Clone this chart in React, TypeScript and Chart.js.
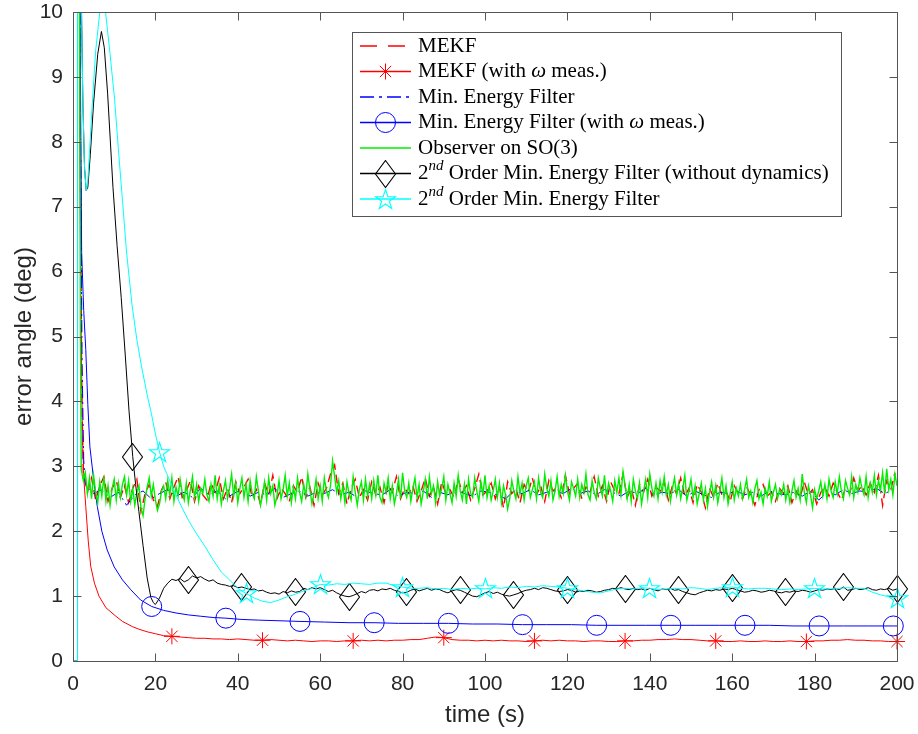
import React, { useEffect, useRef } from 'react';
import { Chart, registerables } from 'chart.js';

Chart.register(...registerables);

// ---------------- axis ticks ----------------
const X_TICKS = [0, 20, 40, 60, 80, 100, 120, 140, 160, 180, 200];
const Y_TICKS = [0, 1, 2, 3, 4, 5, 6, 7, 8, 9, 10];

// ---------------- legend labels ----------------
type Seg = { t: string; it?: boolean; sup?: boolean };
const LEGEND_TEXT: Seg[][] = [
  [{ t: 'MEKF' }],
  [{ t: 'MEKF (with ' }, { t: 'ω', it: true }, { t: ' meas.)' }],
  [{ t: 'Min. Energy Filter' }],
  [{ t: 'Min. Energy Filter (with ' }, { t: 'ω', it: true }, { t: ' meas.)' }],
  [{ t: 'Observer on SO(3)' }],
  [{ t: '2' }, { t: 'nd', it: true, sup: true }, { t: ' Order Min. Energy Filter (without dynamics)' }],
  [{ t: '2' }, { t: 'nd', it: true, sup: true }, { t: ' Order Min. Energy Filter' }],
];

// ---------------- MEKF (no ω) : noisy ----------------
const MEKF_HEAD = [[1.3, 30], [1.7, 9], [2.1, 4.2]];
const MEKF_T0 = 2.5;
const MEKF_DT = 1;
const MEKF_VALUES = [
  2.90, 2.60, 2.82, 2.48, 2.70, 2.84, 2.46, 2.66, 2.78, 2.52,
  2.70, 2.44, 2.66, 2.80, 2.30, 2.58, 2.72, 2.48, 2.38, 2.64,
  2.76, 2.50, 2.68, 2.84, 2.52, 2.62, 2.78, 2.46, 2.70, 2.56,
  2.48, 2.74, 2.60, 2.82, 2.50, 2.66, 2.44, 2.76, 2.58, 2.68,
  2.80, 2.52, 2.64, 2.42, 2.74, 2.56, 2.86, 2.50, 2.66, 2.58,
  2.46, 2.70, 2.60, 2.84, 2.52, 2.68, 2.40, 2.74, 2.56, 2.66,
  2.88, 3.02, 2.58, 2.74, 2.42, 2.66, 2.80, 2.52, 2.64, 2.48,
  2.76, 2.56, 2.68, 2.44, 2.72, 2.60, 2.84, 2.50, 2.66, 2.58,
  2.70, 2.46, 2.62, 2.82, 2.54, 2.68, 2.42, 2.76, 2.58, 2.64,
  2.52, 2.80, 2.60, 2.70, 2.48, 2.66, 2.88, 2.56, 2.62, 2.74,
  2.50, 2.68, 2.36, 2.76, 2.58, 2.66, 2.44, 2.72, 2.60, 2.82,
  2.56, 2.70, 2.46, 2.78, 2.62, 2.68, 2.52, 2.86, 2.58, 2.66,
  2.74, 2.50, 2.68, 2.60, 2.84, 2.54, 2.70, 2.46, 2.76, 2.62,
  2.58, 2.88, 2.52, 2.66, 2.40, 2.72, 2.60, 2.80, 2.54, 2.68,
  2.62, 2.76, 2.48, 2.70, 2.58, 2.82, 2.54, 2.66, 2.44, 2.72,
  2.60, 2.36, 2.66, 2.52, 2.74, 2.56, 2.62, 2.46, 2.70, 2.58,
  2.50, 2.68, 2.56, 2.40, 2.64, 2.72, 2.54, 2.60, 2.46, 2.66,
  2.58, 2.70, 2.44, 2.62, 2.52, 2.76, 2.56, 2.64, 2.42, 2.60,
  2.68, 2.54, 2.74, 2.60, 2.48, 2.66, 2.58, 2.82, 2.62, 2.70,
  2.56, 2.74, 2.60, 2.86, 2.40, 2.78, 2.64, 2.90,
];

// ---------------- MEKF with ω meas. ----------------
const MEKFW_HEAD = [
  [1.2, 20], [1.6, 9], [1.9, 5.5], [2.3, 3.41], [2.7, 2.75], [3.1, 2.38], [3.7, 1.85],
  [4.3, 1.46], [5.2, 1.2], [6.3, 1.0], [8, 0.82], [10.4, 0.69], [12, 0.61], [14.4, 0.53],
  [16, 0.49], [18, 0.45], [20, 0.42],
];
const MEKFW_T0 = 22;
const MEKFW_DT = 2;
const MEKFW_VALUES = [
  0.39, 0.38, 0.37, 0.36, 0.35, 0.35, 0.34, 0.34, 0.33, 0.34,
  0.33, 0.32, 0.32, 0.33, 0.32, 0.31, 0.32, 0.31, 0.30, 0.31,
  0.31, 0.30, 0.31, 0.31, 0.32, 0.31, 0.32, 0.31, 0.32, 0.32,
  0.33, 0.33, 0.35, 0.37, 0.36, 0.33, 0.32, 0.32, 0.31, 0.32,
  0.31, 0.32, 0.31, 0.31, 0.30, 0.31, 0.32, 0.31, 0.32, 0.31,
  0.31, 0.30, 0.31, 0.31, 0.30, 0.30, 0.31, 0.31, 0.32, 0.32,
  0.33, 0.33, 0.34, 0.33, 0.33, 0.32, 0.31, 0.31, 0.30, 0.30,
  0.31, 0.30, 0.30, 0.31, 0.30, 0.30, 0.31, 0.30, 0.30, 0.31,
  0.31, 0.32, 0.32, 0.33, 0.32, 0.32, 0.31, 0.31, 0.30, 0.30,
];
const MEKFW_MARKERS = [23.5, 45.5, 67.5, 89.5, 111.5, 133.5, 155.5, 177.5, 199.5];

// ---------------- Min. Energy Filter (no ω) : noisy ----------------
const MEF_HEAD = [[1.3, 30], [1.75, 9], [2.2, 4.6], [2.6, 3.1]];
const MEF_T0 = 3;
const MEF_DT = 2;
const MEF_VALUES = [
  2.72, 2.58, 2.64, 2.52, 2.60, 2.40, 2.56, 2.62, 2.50, 2.58,
  2.64, 2.54, 2.60, 2.52, 2.66, 2.56, 2.62, 2.50, 2.58, 2.64,
  2.54, 2.60, 2.56, 2.66, 2.52, 2.58, 2.62, 2.54, 2.60, 2.58,
  2.64, 2.56, 2.60, 2.52, 2.62, 2.58, 2.56, 2.64, 2.54, 2.60,
  2.58, 2.62, 2.52, 2.60, 2.56, 2.64, 2.58, 2.54, 2.62, 2.60,
  2.56, 2.50, 2.62, 2.58, 2.64, 2.56, 2.60, 2.62, 2.58, 2.66,
  2.58, 2.62, 2.56, 2.64, 2.60, 2.54, 2.62, 2.58, 2.66, 2.56,
  2.60, 2.58, 2.64, 2.54, 2.62, 2.56, 2.52, 2.60, 2.58, 2.62,
  2.56, 2.60, 2.54, 2.62, 2.58, 2.56, 2.60, 2.54, 2.62, 2.48,
  2.60, 2.56, 2.64, 2.58, 2.62, 2.60, 2.66, 2.58, 2.64,
];

// ---------------- Min. Energy Filter with ω meas. ----------------
const MEFW_POINTS = [
  [1.3, 20], [1.7, 10], [2.1, 6.3], [2.6, 5.4], [3.1, 4.8], [3.6, 3.95], [4.1, 3.3],
  [5, 2.8], [5.9, 2.38], [7, 2.0], [8.3, 1.71], [10, 1.45], [12, 1.25], [14, 1.1],
  [16.4, 0.94], [19.1, 0.84], [22, 0.78], [25, 0.74], [28, 0.71], [31, 0.69], [34, 0.67],
  [37.1, 0.66], [41, 0.64], [45, 0.63], [50, 0.62], [55.1, 0.61], [61, 0.6], [67, 0.59],
  [73.1, 0.59], [79, 0.58], [85, 0.58], [91.1, 0.58], [97, 0.57], [103, 0.57], [109.1, 0.56],
  [115, 0.56], [121, 0.56], [127.1, 0.55], [133, 0.55], [139, 0.55], [145.1, 0.55], [151, 0.55],
  [157, 0.55], [163.1, 0.55], [169, 0.55], [175, 0.54], [181.1, 0.54], [187, 0.54], [193, 0.54],
  [199.1, 0.54], [200, 0.54],
];
const MEFW_MARKERS = [19.1, 37.1, 55.1, 73.1, 91.1, 109.1, 127.1, 145.1, 163.1, 181.1, 199.1];

// ---------------- Observer on SO(3) : noisy ----------------
const OBS_HEAD = [[1.2, 30], [1.6, 10], [1.8, 5]];
const OBS_T0 = 2;
const OBS_DT = 0.5;
const OBS_VALUES = [
  2.95, 2.78, 2.90, 2.58, 2.82, 2.50, 2.86, 2.60, 2.44, 2.76, 2.54, 2.84, 2.46, 2.70, 2.40, 2.66, 2.80, 2.48, 2.74, 2.52,
  2.72, 2.84, 2.56, 2.78, 2.46, 2.66, 2.40, 2.60, 2.70, 2.36, 2.24, 2.50, 2.68, 2.82, 2.54, 2.72, 2.48, 2.32, 2.42, 2.62,
  2.70, 2.50, 2.78, 2.56, 2.82, 2.46, 2.68, 2.54, 2.80, 2.60, 2.48, 2.74, 2.44, 2.64, 2.84, 2.52, 2.72, 2.46, 2.66, 2.58,
  2.80, 2.56, 2.46, 2.72, 2.54, 2.86, 2.50, 2.70, 2.42, 2.62, 2.78, 2.50, 2.66, 2.88, 2.54, 2.74, 2.44, 2.66, 2.82, 2.52,
  2.72, 2.46, 2.78, 2.58, 2.50, 2.84, 2.62, 2.40, 2.56, 2.76, 2.48, 2.82, 2.58, 2.70, 2.40, 2.54, 2.78, 2.50, 2.64, 2.86,
  2.54, 2.74, 2.44, 2.68, 2.50, 2.82, 2.60, 2.46, 2.72, 2.54, 2.88, 2.64, 2.42, 2.58, 2.80, 2.50, 2.70, 2.46, 2.82, 2.62,
  2.52, 2.70, 3.08, 2.84, 2.60, 2.78, 2.50, 2.70, 2.44, 2.76, 2.58, 2.48, 2.84, 2.60, 2.40, 2.64, 2.76, 2.48, 2.80, 2.54,
  2.72, 2.50, 2.78, 2.56, 2.86, 2.52, 2.44, 2.74, 2.60, 2.82, 2.50, 2.70, 2.42, 2.58, 2.80, 2.50, 2.90, 2.62, 2.52, 2.74,
  2.46, 2.66, 2.82, 2.52, 2.72, 2.42, 2.60, 2.80, 2.50, 2.84, 2.58, 2.70, 2.44, 2.76, 2.54, 2.66, 2.84, 2.48, 2.72, 2.58,
  2.44, 2.74, 2.54, 2.86, 2.62, 2.48, 2.72, 2.42, 2.80, 2.58, 2.52, 2.82, 2.62, 2.46, 2.76, 2.56, 2.86, 2.52, 2.70, 2.48,
  2.62, 2.80, 2.52, 2.74, 2.44, 2.70, 2.56, 2.34, 2.50, 2.78, 2.62, 2.50, 2.84, 2.58, 2.74, 2.48, 2.70, 2.82, 2.52, 2.64,
  2.76, 2.50, 2.82, 2.60, 2.52, 2.88, 2.66, 2.54, 2.78, 2.48, 2.62, 2.84, 2.54, 2.72, 2.58, 2.86, 2.62, 2.48, 2.76, 2.66,
  2.54, 2.80, 2.52, 2.72, 2.60, 2.88, 2.56, 2.48, 2.78, 2.60, 2.50, 2.82, 2.66, 2.54, 2.86, 2.52, 2.74, 2.62, 2.46, 2.78,
  2.60, 2.82, 2.56, 2.92, 2.70, 2.50, 2.72, 2.46, 2.80, 2.62, 2.50, 2.74, 2.42, 2.62, 2.80, 2.52, 2.88, 2.66, 2.54, 2.74,
  2.50, 2.78, 2.60, 2.84, 2.56, 2.72, 2.46, 2.66, 2.82, 2.56, 2.74, 2.50, 2.66, 2.86, 2.48, 2.62, 2.80, 2.52, 2.70, 2.42,
  2.58, 2.74, 2.48, 2.66, 2.38, 2.60, 2.76, 2.52, 2.70, 2.44, 2.62, 2.82, 2.52, 2.70, 2.42, 2.58, 2.76, 2.48, 2.66, 2.54,
  2.72, 2.50, 2.64, 2.80, 2.52, 2.62, 2.44, 2.66, 2.78, 2.50, 2.60, 2.42, 2.66, 2.54, 2.76, 2.46, 2.60, 2.72, 2.50, 2.64,
  2.56, 2.72, 2.48, 2.66, 2.44, 2.62, 2.78, 2.52, 2.66, 2.48, 2.88, 2.60, 2.44, 2.70, 2.56, 2.36, 2.64, 2.50, 2.62, 2.76,
  2.54, 2.72, 2.50, 2.80, 2.62, 2.52, 2.76, 2.58, 2.84, 2.62, 2.50, 2.78, 2.66, 2.56, 2.84, 2.52, 2.72, 2.60, 2.82, 2.66,
  2.56, 2.84, 2.52, 2.74, 2.60, 2.86, 2.56, 2.78, 2.64, 2.90, 2.58, 2.96, 2.64, 2.80, 2.56, 2.88, 2.70,
];

// ---------------- 2nd order MEF (without dynamics) ----------------
const SO_ND_HEAD = [
  [0, 0], [1.0, 0], [1.1, 30], [1.5, 15], [2.0, 10.3], [2.4, 8.6], [2.8, 7.6], [3.2, 7.25],
  [3.6, 7.3], [4.2, 7.8], [5, 8.6], [6, 9.35], [6.9, 9.7], [7.6, 9.45], [8.4, 8.75], [9.7, 7.3],
  [10.7, 6.4], [11.7, 5.6], [12.7, 4.7], [13.6, 3.85], [14.5, 3.15], [15.2, 2.72], [16, 2.3],
  [17, 1.78], [18, 1.28], [18.9, 0.98], [19.5, 0.9],
];
const SO_ND_T0 = 20;
const SO_ND_DT = 1;
const SO_ND_VALUES = [
  0.87, 0.97, 1.12, 1.20, 1.26, 1.24, 1.27, 1.22, 1.25, 1.31,
  1.28, 1.30, 1.26, 1.23, 1.25, 1.20, 1.18, 1.17, 1.15, 1.16,
  1.13, 1.14, 1.12, 1.10, 1.11, 1.08, 1.09, 1.06, 1.04, 1.05,
  1.03, 1.07, 1.05, 1.08, 1.06, 1.07, 1.12, 1.10, 1.13, 1.11,
  1.13, 1.10, 1.07, 1.09, 1.05, 1.02, 1.00, 0.99, 1.01, 1.04,
  1.07, 1.05, 1.09, 1.10, 1.08, 1.11, 1.10, 1.12, 1.09, 1.07,
  1.05, 1.06, 1.09, 1.11, 1.08, 1.10, 1.12, 1.09, 1.11, 1.10,
  1.07, 1.05, 1.08, 1.10, 1.09, 1.06, 1.03, 1.00, 0.99, 1.02,
  1.05, 1.07, 1.04, 1.06, 1.03, 1.01, 1.00, 1.02, 1.04, 1.07,
  1.09, 1.10, 1.12, 1.10, 1.13, 1.12, 1.10, 1.08, 1.07, 1.08,
  1.10, 1.09, 1.06, 1.08, 1.07, 1.09, 1.08, 1.06, 1.07, 1.09,
  1.10, 1.12, 1.11, 1.13, 1.11, 1.10, 1.12, 1.10, 1.11, 1.09,
  1.12, 1.10, 1.08, 1.11, 1.10, 1.12, 1.09, 1.10, 1.07, 1.05,
  1.03, 1.02, 1.05, 1.07, 1.09, 1.08, 1.10, 1.09, 1.11, 1.10,
  1.12, 1.10, 1.08, 1.06, 1.07, 1.09, 1.08, 1.06, 1.07, 1.09,
  1.08, 1.06, 1.05, 1.07, 1.06, 1.08, 1.07, 1.09, 1.08, 1.06,
  1.08, 1.10, 1.09, 1.11, 1.10, 1.12, 1.10, 1.14, 1.09, 1.10,
  1.12, 1.10, 1.11, 1.13, 1.10, 1.09, 1.11, 1.10, 1.12, 1.09,
  1.11,
];
const SO_ND_MARKERS = [14.5, 27.6, 40.9, 54.2, 67.5, 80.7, 94, 107.2, 120.5, 133.8, 147, 160.3, 173.5, 186.8, 200];

// ---------------- 2nd order MEF ----------------
const SO_HEAD = [
  [0, 0], [1.0, 0], [1.1, 30], [1.5, 15], [2.0, 10.3], [2.4, 8.6], [2.8, 7.6], [3.2, 7.25],
  [3.6, 7.4], [4.5, 8.4], [5.5, 9.4], [6.5, 10.0], [7.2, 10.25], [7.9, 10.0], [9, 9.35],
  [10.1, 8.65], [11, 7.9], [12, 7.1], [13, 6.3], [14.3, 5.5], [15.5, 4.95], [16.6, 4.55],
  [18, 4.1], [19, 3.82], [20, 3.5], [21, 3.22], [22, 3.0],
];
const SO_T0 = 24;
const SO_DT = 2;
const SO_VALUES = [
  2.70, 2.42, 2.17, 1.96, 1.77, 1.56, 1.37, 1.25, 1.12, 1.04,
  0.97, 0.92, 0.90, 0.94, 0.99, 1.03, 1.08, 1.12, 1.18, 1.17,
  1.19, 1.18, 1.20, 1.19, 1.18, 1.20, 1.20, 1.16, 1.14, 1.12,
  1.12, 1.13, 1.11, 1.12, 1.10, 1.12, 1.11, 1.12, 1.11, 1.13,
  1.12, 1.14, 1.13, 1.15, 1.14, 1.16, 1.15, 1.14, 1.12, 1.10,
  1.08, 1.06, 1.05, 1.08, 1.11, 1.12, 1.11, 1.13, 1.12, 1.10,
  1.11, 1.12, 1.11, 1.13, 1.12, 1.10, 1.12, 1.13, 1.14, 1.12,
  1.11, 1.12, 1.12, 1.11, 1.10, 1.11, 1.10, 1.11, 1.12, 1.11,
  1.11, 1.12, 1.13, 1.12, 1.12, 1.06, 1.02, 0.99, 0.97,
];
const SO_MARKERS = [21, 41.2, 60.6, 80.5, 100.4, 120.1, 140, 159.7, 179.6, 199.5];

// ---------------- styles ----------------
const AXIS_COLOR = '#555555';
const TEXT_COLOR = '#262626';
const TICK_LEN = 8;
const LEGEND_FONT = 21;
const LEGEND_SUP_FONT = 15;

type P = { x: number; y: number };

function fromPairs(pairs: number[][]): P[] {
  return pairs.map(([x, y]) => ({ x, y }));
}
function withUniform(head: number[][], t0: number, dt: number, vals: number[]): P[] {
  return fromPairs(head).concat(vals.map((v, i) => ({ x: Math.round((t0 + i * dt) * 1000) / 1000, y: v })));
}
function pickMarkers(data: P[], times: number[]): P[] {
  return times.map((t) => {
    let best = data[0];
    for (const p of data) if (Math.abs(p.x - t) < Math.abs(best.x - t)) best = p;
    return best;
  });
}

function makeDiamond(color: string): HTMLCanvasElement {
  const c = document.createElement('canvas');
  c.width = 21;
  c.height = 28;
  const g = c.getContext('2d')!;
  g.beginPath();
  g.moveTo(10.5, 0.5);
  g.lineTo(20.5, 14);
  g.lineTo(10.5, 27.5);
  g.lineTo(0.5, 14);
  g.closePath();
  g.strokeStyle = color;
  g.lineWidth = 1.1;
  g.stroke();
  return c;
}

function makePentagram(color: string): HTMLCanvasElement {
  const s = 25;
  const c = document.createElement('canvas');
  c.width = s;
  c.height = s;
  const g = c.getContext('2d')!;
  const R = 10.5;
  const r = R * 0.382;
  const cx = s / 2;
  const cy = s / 2 + 0.5;
  g.beginPath();
  for (let i = 0; i < 10; i++) {
    const ang = -Math.PI / 2 + (i * Math.PI) / 5;
    const rad = i % 2 === 0 ? R : r;
    const x = cx + rad * Math.cos(ang);
    const y = cy + rad * Math.sin(ang);
    if (i === 0) g.moveTo(x, y);
    else g.lineTo(x, y);
  }
  g.closePath();
  g.strokeStyle = color;
  g.lineWidth = 1.1;
  g.stroke();
  return c;
}

export default function App() {
  const ref = useRef<HTMLCanvasElement>(null);

  useEffect(() => {
    const canvas = ref.current;
    if (!canvas) return;

    const diamondImg = makeDiamond('#000000');
    const starImg = makePentagram('#00ffff');

    const mekf = withUniform(MEKF_HEAD, MEKF_T0, MEKF_DT, MEKF_VALUES);
    const mekfw = withUniform(MEKFW_HEAD, MEKFW_T0, MEKFW_DT, MEKFW_VALUES);
    const mef = withUniform(MEF_HEAD, MEF_T0, MEF_DT, MEF_VALUES);
    const mefw = fromPairs(MEFW_POINTS);
    const obs = withUniform(OBS_HEAD, OBS_T0, OBS_DT, OBS_VALUES);
    const sond = withUniform(SO_ND_HEAD, SO_ND_T0, SO_ND_DT, SO_ND_VALUES);
    const so = withUniform(SO_HEAD, SO_T0, SO_DT, SO_VALUES);

    const SERIES = [
      { data: mekf, color: '#ff0000', width: 1.4, dash: [9, 5], legendDash: [17, 11], marker: null as any, markers: [] as number[] },
      { data: mekfw, color: '#ff0000', width: 1, dash: [], legendDash: [], marker: 'asterisk', markers: MEKFW_MARKERS },
      { data: mef, color: '#0000ff', width: 1, dash: [12, 4, 2, 4], legendDash: [14, 5, 3, 5], marker: null, markers: [] },
      { data: mefw, color: '#0000ff', width: 1, dash: [], legendDash: [], marker: 'circle', markers: MEFW_MARKERS },
      { data: obs, color: '#00ee00', width: 1.4, dash: [], legendDash: [], marker: null, markers: [] },
      { data: sond, color: '#000000', width: 1, dash: [], legendDash: [], marker: 'diamond', markers: SO_ND_MARKERS },
      { data: so, color: '#00ffff', width: 1, dash: [], legendDash: [], marker: 'star', markers: SO_MARKERS },
    ];

    const datasets: any[] = [];
    SERIES.forEach((s, k) => {
      datasets.push({
        type: 'line',
        data: s.data,
        borderColor: s.color,
        backgroundColor: s.color,
        borderWidth: s.width,
        borderDash: s.dash,
        pointRadius: 0,
        tension: 0,
        fill: false,
        order: 100 - 2 * k,
      });
      if (s.marker) {
        const common: any = {
          type: 'line',
          data: pickMarkers(s.data, s.markers),
          showLine: false,
          clip: false,
          order: 100 - 2 * k - 1,
          pointBorderColor: s.color,
          pointBackgroundColor: 'rgba(0,0,0,0)',
          pointBorderWidth: 1,
        };
        if (s.marker === 'asterisk') Object.assign(common, { pointStyle: 'star', pointRadius: 8 });
        if (s.marker === 'circle') Object.assign(common, { pointStyle: 'circle', pointRadius: 10 });
        if (s.marker === 'diamond') Object.assign(common, { pointStyle: diamondImg, pointRadius: 10 });
        if (s.marker === 'star') Object.assign(common, { pointStyle: starImg, pointRadius: 10 });
        datasets.push(common);
      }
    });

    const drawMarker = (ctx: CanvasRenderingContext2D, m: string | null, x: number, y: number, color: string) => {
      if (!m) return;
      ctx.save();
      ctx.strokeStyle = color;
      ctx.lineWidth = 1;
      ctx.setLineDash([]);
      if (m === 'asterisk') {
        const r = 8;
        ctx.beginPath();
        ctx.moveTo(x - r, y);
        ctx.lineTo(x + r, y);
        ctx.moveTo(x, y - r);
        ctx.lineTo(x, y + r);
        const d = r * Math.SQRT1_2;
        ctx.moveTo(x - d, y - d);
        ctx.lineTo(x + d, y + d);
        ctx.moveTo(x - d, y + d);
        ctx.lineTo(x + d, y - d);
        ctx.stroke();
      } else if (m === 'circle') {
        ctx.beginPath();
        ctx.arc(x, y, 10, 0, Math.PI * 2);
        ctx.stroke();
      } else if (m === 'diamond') {
        ctx.drawImage(diamondImg, Math.round(x - diamondImg.width / 2), Math.round(y - diamondImg.height / 2));
      } else if (m === 'star') {
        ctx.drawImage(starImg, Math.round(x - starImg.width / 2), Math.round(y - starImg.height / 2));
      }
      ctx.restore();
    };

    const crispPlugin = {
      id: 'crispImages',
      beforeDatasetsDraw(chart: any) {
        chart.ctx.imageSmoothingEnabled = false;
      },
      afterDatasetsDraw(chart: any) {
        chart.ctx.imageSmoothingEnabled = true;
      },
    };

    const axesPlugin = {
      id: 'matlabAxes',
      afterDatasetsDraw(chart: any) {
        const { ctx, chartArea: a, scales } = chart;
        const xs = scales.x;
        const ys = scales.y;
        ctx.save();
        ctx.strokeStyle = AXIS_COLOR;
        ctx.lineWidth = 1;
        ctx.setLineDash([]);
        ctx.beginPath();
        const L = Math.round(a.left) + 0.5;
        const R = Math.round(a.right) + 0.5;
        const T = Math.round(a.top) + 0.5;
        const B = Math.round(a.bottom) + 0.5;
        ctx.moveTo(L, T);
        ctx.lineTo(R, T);
        ctx.lineTo(R, B);
        ctx.lineTo(L, B);
        ctx.closePath();
        for (const t of X_TICKS) {
          const px = Math.round(xs.getPixelForValue(t)) + 0.5;
          ctx.moveTo(px, B);
          ctx.lineTo(px, B - TICK_LEN);
          ctx.moveTo(px, T);
          ctx.lineTo(px, T + TICK_LEN);
        }
        for (const v of Y_TICKS) {
          const py = Math.round(ys.getPixelForValue(v)) + 0.5;
          ctx.moveTo(L, py);
          ctx.lineTo(L + TICK_LEN, py);
          ctx.moveTo(R, py);
          ctx.lineTo(R - TICK_LEN, py);
        }
        ctx.stroke();
        ctx.restore();
      },
    };

    const legendPlugin = {
      id: 'matlabLegend',
      afterDraw(chart: any) {
        const ctx: CanvasRenderingContext2D = chart.ctx;
        ctx.save();
        const L = 352;
        const T = 32;
        const R = 841;
        const B = 216;
        ctx.fillStyle = '#ffffff';
        ctx.fillRect(L, T, R - L, B - T);
        ctx.strokeStyle = AXIS_COLOR;
        ctx.lineWidth = 1;
        ctx.strokeRect(L + 0.5, T + 0.5, R - L, B - T);
        SERIES.forEach((s, i) => {
          const y = 46 + i * 25.5;
          ctx.strokeStyle = s.color;
          ctx.lineWidth = 1.3;
          ctx.setLineDash(s.legendDash);
          ctx.beginPath();
          ctx.moveTo(360, y);
          ctx.lineTo(411, y);
          ctx.stroke();
          ctx.setLineDash([]);
          drawMarker(ctx, s.marker, 385.5, y, s.color);
          let x = 418;
          ctx.fillStyle = '#000000';
          ctx.textBaseline = 'middle';
          ctx.textAlign = 'left';
          for (const seg of LEGEND_TEXT[i]) {
            const size = seg.sup ? LEGEND_SUP_FONT : LEGEND_FONT;
            ctx.font = `${seg.it ? 'italic ' : ''}${size}px "Liberation Serif"`;
            ctx.fillText(seg.t, x, seg.sup ? y - 7 : y);
            x += ctx.measureText(seg.t).width;
          }
        });
        ctx.restore();
      },
    };

    const chart = new Chart(canvas, {
      type: 'line',
      data: { datasets },
      options: {
        animation: false,
        responsive: false,
        devicePixelRatio: 1,
        events: [],
        parsing: false as any,
        layout: { padding: { left: 0, top: 12, right: 21, bottom: 0 } },
        plugins: { legend: { display: false }, tooltip: { enabled: false }, title: { display: false } },
        scales: {
          x: {
            type: 'linear',
            min: 0,
            max: 200,
            grid: { display: false, drawTicks: false },
            border: { display: false },
            afterBuildTicks: (s: any) => {
              s.ticks = X_TICKS.map((v) => ({ value: v }));
            },
            afterFit: (s: any) => {
              s.height = 73;
              s.paddingLeft = 0;
              s.paddingRight = 0;
            },
            ticks: {
              autoSkip: false,
              maxRotation: 0,
              padding: 11,
              color: TEXT_COLOR,
              font: { family: 'Liberation Sans', size: 21 },
            },
            title: {
              display: true,
              text: 'time (s)',
              color: TEXT_COLOR,
              font: { family: 'Liberation Sans', size: 24 },
              padding: { top: 0, bottom: 4 },
            },
          },
          y: {
            type: 'linear',
            min: 0,
            max: 10,
            grid: { display: false, drawTicks: false },
            border: { display: false },
            afterBuildTicks: (s: any) => {
              s.ticks = Y_TICKS.map((v) => ({ value: v }));
            },
            afterFit: (s: any) => {
              s.width = 73;
              s.paddingTop = 0;
              s.paddingBottom = 0;
            },
            ticks: {
              padding: 10,
              color: TEXT_COLOR,
              font: { family: 'Liberation Sans', size: 21 },
            },
            title: {
              display: true,
              text: 'error angle (deg)',
              color: TEXT_COLOR,
              font: { family: 'Liberation Sans', size: 24 },
              padding: { top: 10, bottom: 0 },
            },
          },
        },
      },
      plugins: [crispPlugin, axesPlugin, legendPlugin],
    } as any);

    return () => chart.destroy();
  }, []);

  return (
    <div style={{ position: 'fixed', left: 0, top: 0, width: 918, height: 734, background: '#ffffff' }}>
      <canvas ref={ref} width={918} height={734} style={{ display: 'block', width: 918, height: 734 }} />
    </div>
  );
}
